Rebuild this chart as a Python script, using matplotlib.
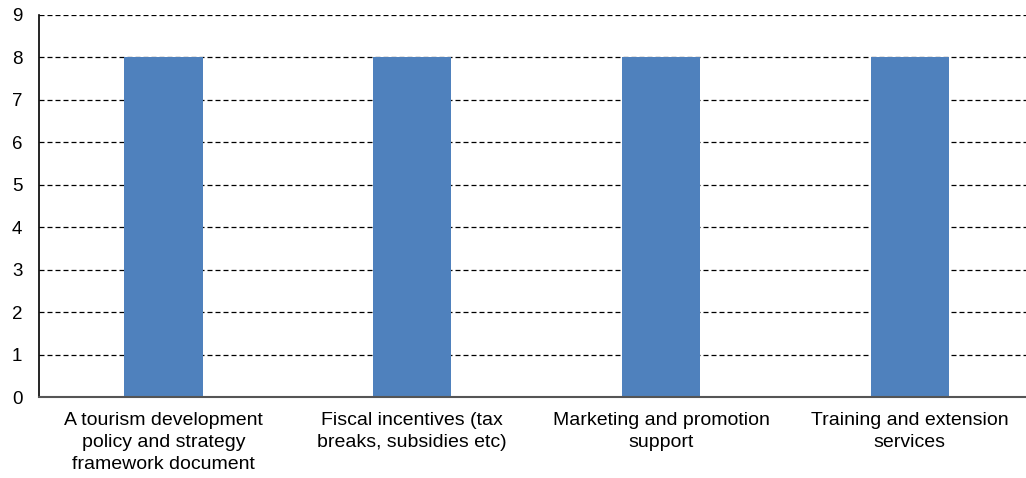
import matplotlib.pyplot as plt

plt.rcParams['font.family'] = ['Liberation Sans', 'DejaVu Sans']

categories = [
    'A tourism development\npolicy and strategy\nframework document',
    'Fiscal incentives (tax\nbreaks, subsidies etc)',
    'Marketing and promotion\nsupport',
    'Training and extension\nservices',
]
counts = [8, 8, 8, 8]

fig = plt.figure(figsize=(10.26, 4.78), dpi=100)
ax = fig.add_axes([0.038, 0.169, 0.97, 0.8])

x = range(len(categories))
ax.bar(x, counts, width=0.315, color='#4F81BD', zorder=3)

ax.set_xlim(-0.5, len(categories) - 0.5)
ax.set_ylim(0, 9)
ax.set_yticks(range(0, 10))
ax.set_xticks(list(x))
ax.set_xticklabels(categories, fontsize=14, linespacing=1.35)
ax.tick_params(axis='y', length=0, pad=12, labelsize=13.5)
ax.tick_params(axis='x', length=0, pad=11)

ax.grid(True, axis='y', color='black', linestyle=(0, (4, 2.4)), linewidth=0.9, zorder=1)
for side in ['top', 'right']:
    ax.spines[side].set_visible(False)
ax.spines['left'].set_color('black')
ax.spines['left'].set_linewidth(1.2)
ax.spines['bottom'].set_color('#555555')
ax.spines['bottom'].set_linewidth(1.5)
ax.spines['bottom'].set_zorder(4)

fig.savefig('out.png', dpi=100)
